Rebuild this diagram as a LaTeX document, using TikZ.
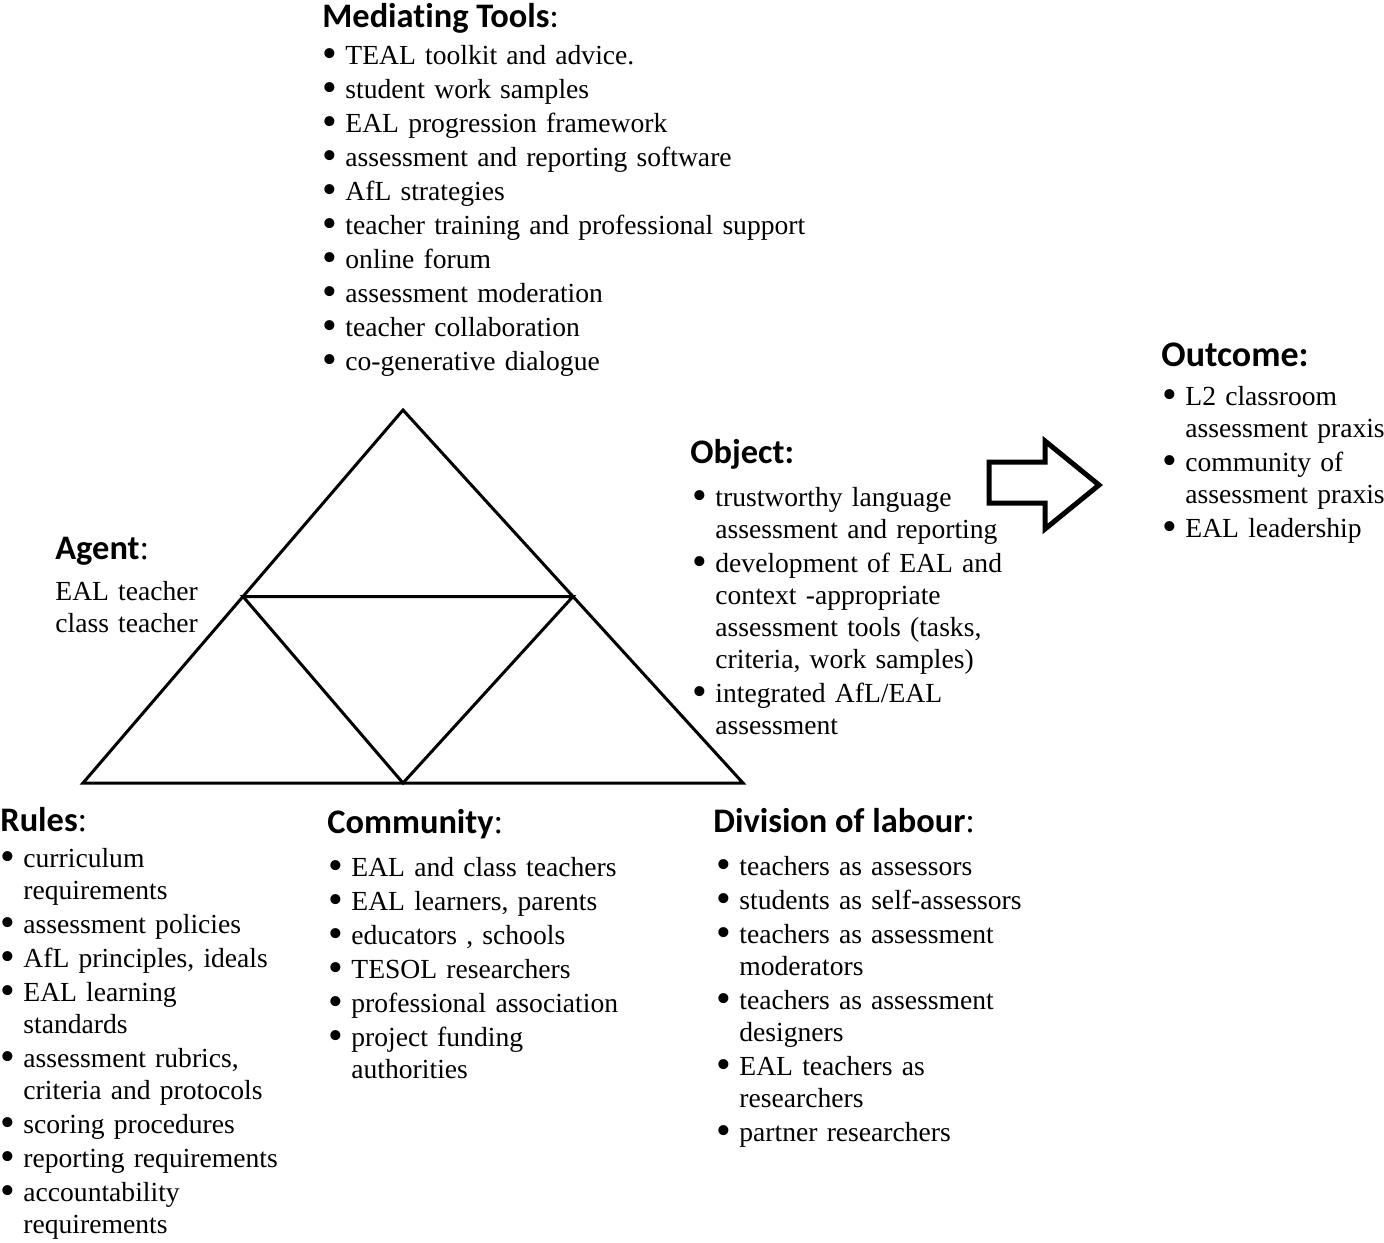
\documentclass[tikz,border=0pt]{standalone}
\usepackage{fontspec}
\setmainfont{Liberation Serif}
\newfontfamily\cabeza[Ligatures=NoCommon]{Carlito}
\usepackage{tikz}
\usetikzlibrary{positioning, calc}
\newcommand{\vineta}{\smash{\raisebox{-1.3pt}{\fontsize{21}{16}\selectfont\textbullet}}}
\newcommand{\punto}[1]{\hangindent=11.5pt\hangafter=1\noindent\strut
  \makebox[11.5pt][l]{\vineta}#1\par}
\newcommand{\dospuntos}{{\normalfont\rmfamily:}}

\begin{document}
\begin{tikzpicture}[x=0.5pt, y=-0.5pt,
    titulo/.style={font=\cabeza\bfseries\fontsize{17.2}{20}\selectfont, inner sep=0pt, anchor=base west},
    lista/.style={font={\fontsize{13.8}{16}\selectfont\setlength{\parskip}{1pt}\setlength{\parindent}{0pt}},
      inner sep=0pt, anchor=north west, text width=#1, align=left},
    lista/.default=250pt,
    borde/.style={line width=1.5pt, line join=miter}]
  \useasboundingbox (0,0) rectangle (1384,1242);
  % triangulo
  \coordinate (cima) at (403,410);
  \coordinate (izq) at (83,783);
  \coordinate (der) at (743,783);
  \coordinate (mizq) at ($(cima)!0.5!(izq)$);
  \coordinate (mder) at ($(cima)!0.5!(der)$);
  \coordinate (mbase) at (403,783);
  \draw[borde] (cima) -- (izq) -- (der) -- cycle;
  \draw[borde] (mizq) -- (mder) -- (mbase) -- cycle;
  % flecha
  \draw[line width=2.5pt, line join=miter] (989,462) -- (1045,462) -- (1045,441)
    -- (1099,485) -- (1045,529) -- (1045,503) -- (989,503) -- cycle;
  % encabezados
  \node[titulo] (herr) at (322,27) {Mediating Tools{\mdseries:}};
  \node[titulo, font=\cabeza\bfseries\fontsize{18}{20}\selectfont] (resul) at (1161,366) {Outcome:};
  \node[titulo] (obj) at (690,463) {Object:};
  \node[titulo] (agente) at (55,559) {Agent\dospuntos};
  \node[titulo] (reglas) at (0,831) {Rules\dospuntos};
  \node[titulo] (comun) at (327,833) {Community\dospuntos};
  \node[titulo] (divis) at (713,832) {Division of labour\dospuntos};
  % listas
  \node[lista] (herrl) at (322,42) {%
    \punto{TEAL toolkit and advice.}
    \punto{student work samples}
    \punto{EAL progression framework}
    \punto{assessment and reporting software}
    \punto{AfL strategies}
    \punto{teacher training and professional support}
    \punto{online forum}
    \punto{assessment moderation}
    \punto{teacher collaboration}
    \punto{co-generative dialogue}};
  \node[lista] (resull) at (1162,383) {%
    \punto{L2 classroom\newline assessment praxis}
    \punto{community of\newline assessment praxis}
    \punto{EAL leadership}};
  \node[lista] (objl) at (692,484) {%
    \punto{trustworthy language\newline assessment and reporting}
    \punto{development of EAL and\newline context -appropriate\newline
      assessment tools (tasks,\newline criteria, work samples)}
    \punto{integrated AfL/EAL\newline assessment}};
  \node[lista] (agentel) at (55,578) {\strut EAL teacher\newline class teacher};
  \node[lista] (reglasl) at (0,845) {%
    \punto{curriculum\newline requirements}
    \punto{assessment policies}
    \punto{AfL principles, ideals}
    \punto{EAL learning\newline standards}
    \punto{assessment rubrics,\newline criteria and protocols}
    \punto{scoring procedures}
    \punto{reporting requirements}
    \punto{accountability\newline requirements}};
  \node[lista] (comunl) at (328,854) {%
    \punto{EAL and class teachers}
    \punto{EAL learners, parents}
    \punto{educators , schools}
    \punto{TESOL researchers}
    \punto{professional association}
    \punto{project funding\newline authorities}};
  \node[lista] (divisl) at (716,853) {%
    \punto{teachers as assessors}
    \punto{students as self-assessors}
    \punto{teachers as assessment\newline moderators}
    \punto{teachers as assessment\newline designers}
    \punto{EAL teachers as\newline researchers}
    \punto{partner researchers}};
\end{tikzpicture}
\end{document}
